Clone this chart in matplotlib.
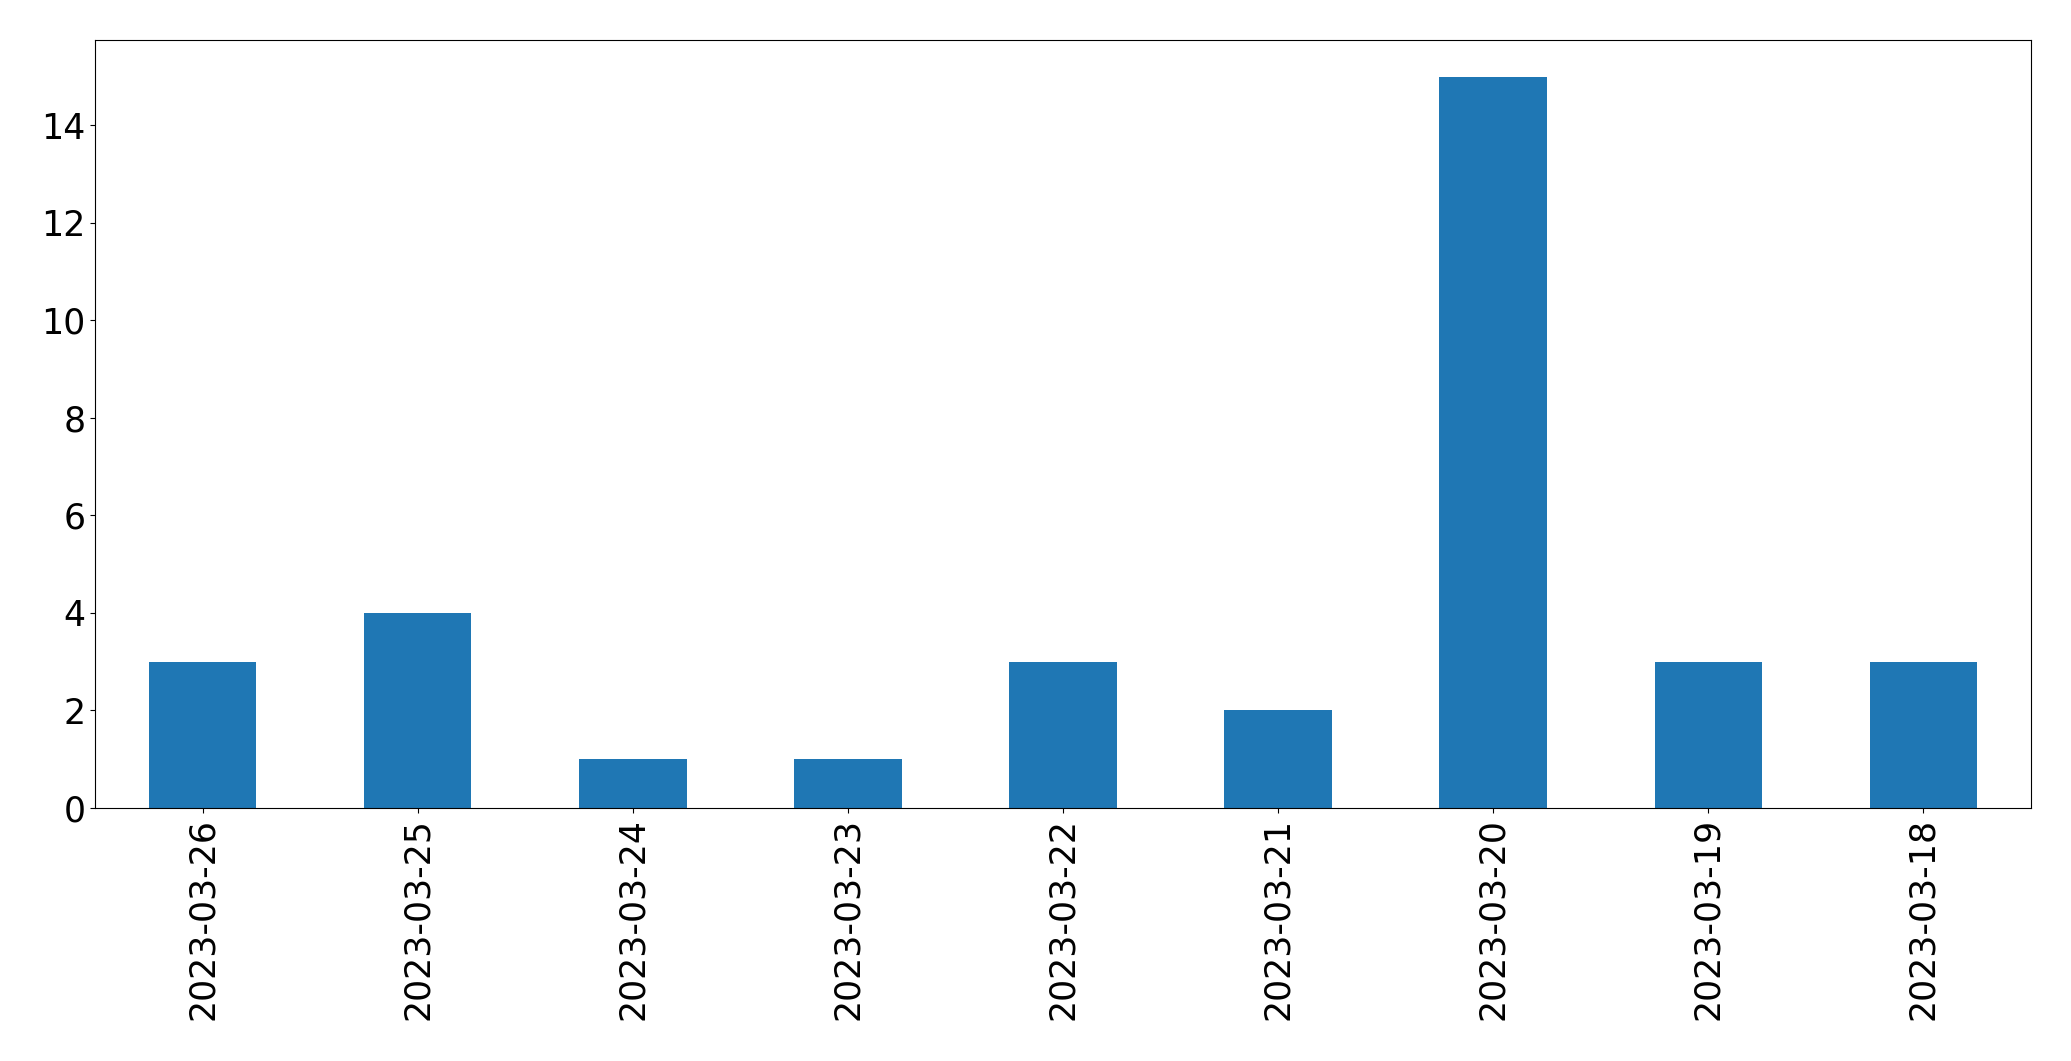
import matplotlib.pyplot as plt
import pandas as pd

dates = ['2023-03-26', '2023-03-25', '2023-03-24', '2023-03-23', '2023-03-22',
         '2023-03-21', '2023-03-20', '2023-03-19', '2023-03-18']
counts = [3, 4, 1, 1, 3, 2, 15, 3, 3]

s = pd.Series(counts, index=dates)

fig, ax = plt.subplots(figsize=(20.71, 10.61), dpi=100)
s.plot(kind='bar', ax=ax, color='#1f77b4', fontsize=25)

fig.subplots_adjust(left=0.0459, right=0.9807, top=0.9623, bottom=0.2385)
fig.savefig('out.png', dpi=100)
